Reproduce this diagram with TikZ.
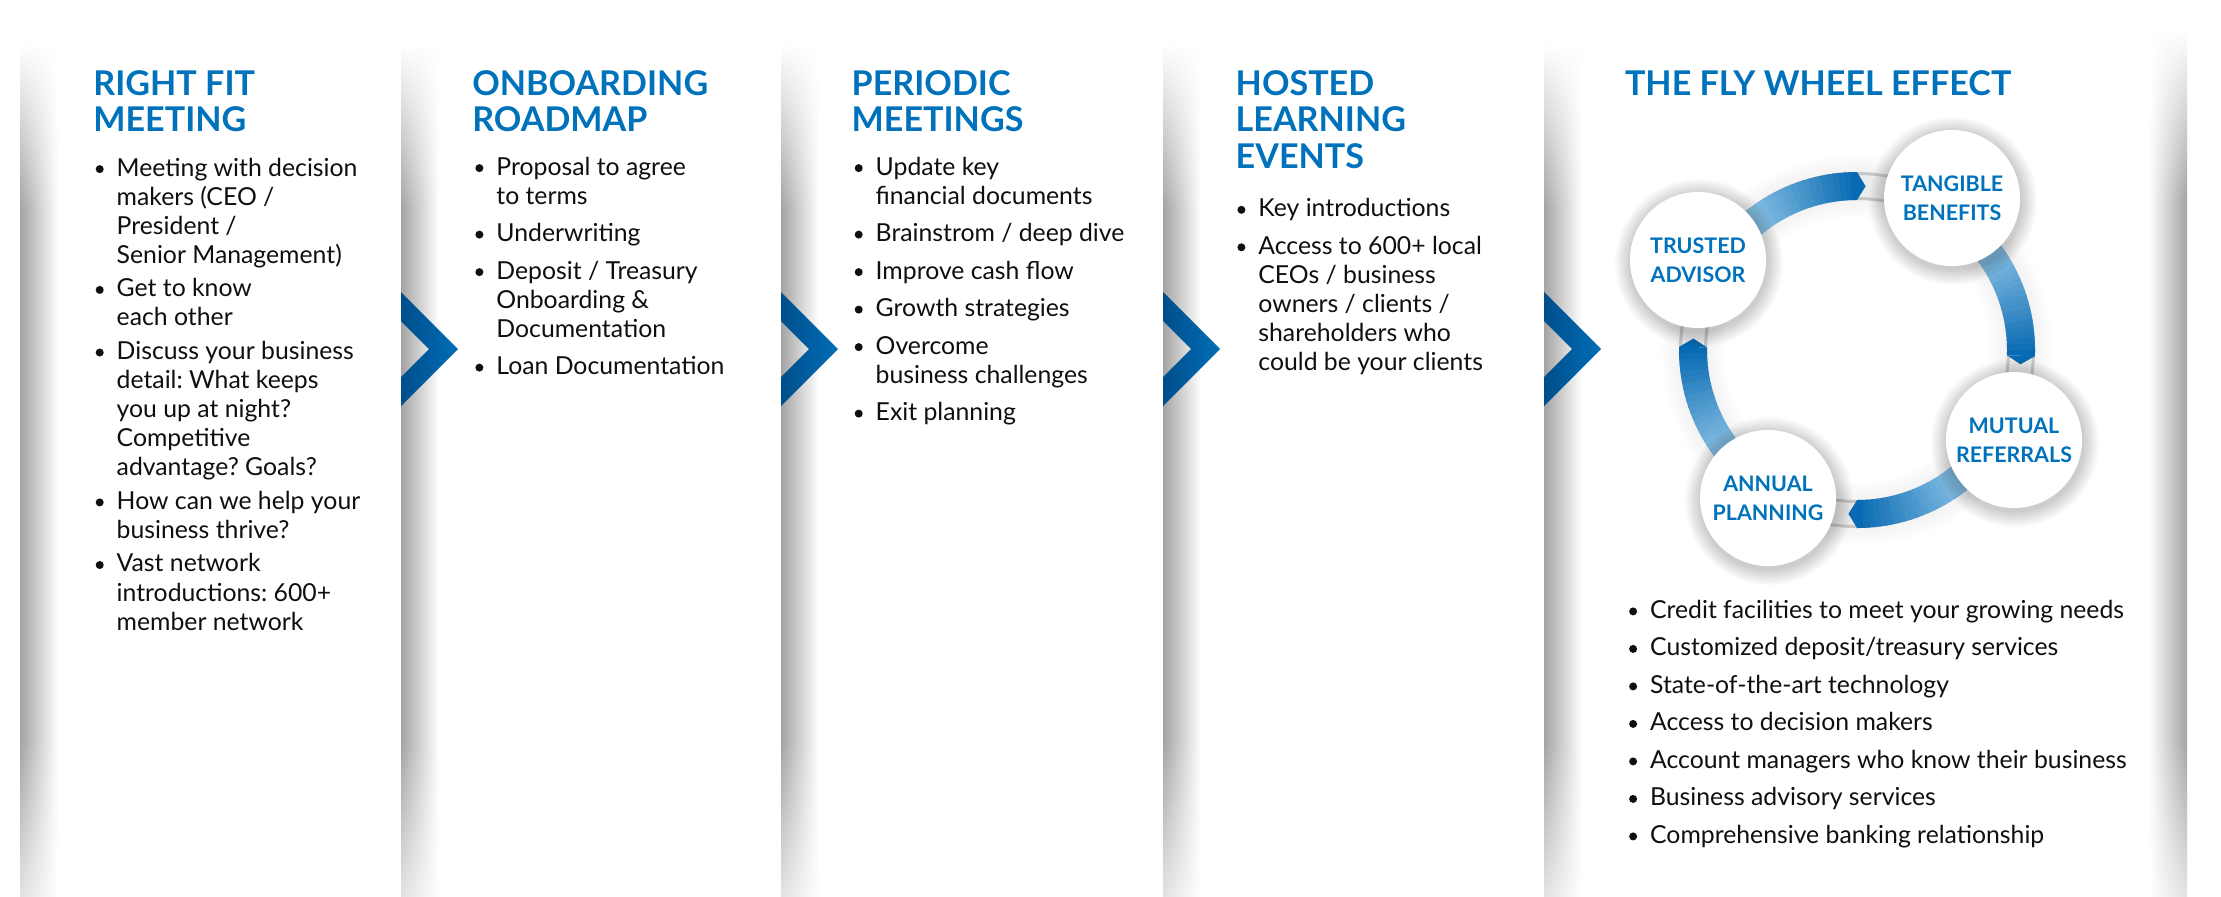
\documentclass[tikz,border=0pt]{standalone}
\usepackage{fontspec}
\setmainfont{Lato}
\usetikzlibrary{fadings}
\frenchspacing
\definecolor{ttl}{RGB}{0,114,188}
\definecolor{chev}{RGB}{0,110,183}
\definecolor{chevdark}{RGB}{0,78,138}
\definecolor{adark}{RGB}{8,106,178}
\definecolor{alight}{RGB}{146,198,232}
\definecolor{txt}{RGB}{15,15,15}
\newcounter{lnc}
\tikzset{
  ttlstyle/.style={anchor=base west, inner sep=0pt, text=ttl, font=\fontsize{9.7}{10.4}\selectfont\bfseries},
  linestyle/.style={anchor=base west, inner sep=0pt, text=txt, font=\fontsize{7.05}{8.2}\selectfont\frenchspacing},
  wheelnode/.style={circle, fill=white, minimum size=13.6mm, inner sep=0pt, text=ttl, align=center, font=\fontsize{6.1}{8.2}\selectfont\bfseries},
}
\newcommand\Ln[3]{\stepcounter{lnc}\node[linestyle] (ln\arabic{lnc}) at (#1,#2) {#3};}
\newcommand\Bul[2]{\fill[txt] (#1-16.3,#2-6.9) circle[radius=4];}
\newcommand\LShadow[1]{%
  \shade[left color=black!36, right color=white] (#1,45) rectangle (#1+38,896);
  \fill[white, path fading=south] (#1-1,44) rectangle (#1+39,210);
  \fill[white, path fading=north, opacity=.7] (#1-1,740) rectangle (#1+39,897);
}
\newcommand\Chev[1]{%
  \shade[left color=chevdark, middle color=chev, right color=chev]
    (#1,292) -- (#1+57,349) -- (#1,406) -- (#1,377) -- (#1+28,349) -- (#1,321) -- cycle;
}
\newcommand\Wheel[4]{%
  \foreach \k in {1,...,10} {\fill[black, opacity=0.018] (#2+1,#3+3) circle[radius=68+\k*1.6];}
  \node[wheelnode] (#1) at (#2,#3) {#4};
}
\begin{document}
\begin{tikzpicture}[x=0.1mm, y=-0.1mm]
\useasboundingbox (0,0) rectangle (2221,896);
\fill[white] (0,0) rectangle (2221,896);

% panel shadows
\LShadow{20}
\LShadow{401}
\LShadow{781}
\LShadow{1163}
\LShadow{1544}
\shade[left color=white, right color=black!36] (2149,30) rectangle (2187,896);
\fill[white, path fading=south] (2148,29) rectangle (2188,200);
\fill[white, path fading=north, opacity=.7] (2148,740) rectangle (2188,897);

% chevrons
\Chev{401}
\Chev{781}
\Chev{1163}
\Chev{1544}

% panel 1
\node[ttlstyle] (t1a) at (92.7,95) {RIGHT FIT};
\node[ttlstyle] (t1b) at (92.7,131.7) {MEETING};
\Bul{116}{176}\Ln{116}{176}{Meeting with decision}
\Ln{116}{205.1}{makers (CEO /}
\Ln{116}{234.2}{President /}
\Ln{116}{263.3}{Senior Management)}
\Bul{116}{296.8}\Ln{116}{296.8}{Get to know}
\Ln{116}{325.9}{each other}
\Bul{116}{359.4}\Ln{116}{359.4}{Discuss your business}
\Ln{116}{388.5}{detail: What keeps}
\Ln{116}{417.6}{you up at night?}
\Ln{116}{446.7}{Competitive}
\Ln{116}{475.8}{advantage? Goals?}
\Bul{116}{509.3}\Ln{116}{509.3}{How can we help your}
\Ln{116}{538.4}{business thrive?}
\Bul{116}{571.9}\Ln{116}{571.9}{Vast network}
\Ln{116}{601}{introductions: 600+}
\Ln{116}{630.1}{member network}

% panel 2
\node[ttlstyle] (t2a) at (471.7,95) {ONBOARDING};
\node[ttlstyle] (t2b) at (471.7,131.7) {ROADMAP};
\Bul{495.7}{175}\Ln{495.7}{175}{Proposal to agree}
\Ln{495.7}{204}{to terms}
\Bul{495.7}{241.5}\Ln{495.7}{241.5}{Underwriting}
\Bul{495.7}{279}\Ln{495.7}{279}{Deposit / Treasury}
\Ln{495.7}{308}{Onboarding \&}
\Ln{495.7}{337}{Documentation}
\Bul{495.7}{374.5}\Ln{495.7}{374.5}{Loan Documentation}

% panel 3
\node[ttlstyle] (t3a) at (851,95) {PERIODIC};
\node[ttlstyle] (t3b) at (851,131.7) {MEETINGS};
\Bul{875}{175}\Ln{875}{175}{Update key}
\Ln{875}{204}{financial documents}
\Bul{875}{241.5}\Ln{875}{241.5}{Brainstrom / deep dive}
\Bul{875}{279}\Ln{875}{279}{Improve cash flow}
\Bul{875}{316.5}\Ln{875}{316.5}{Growth strategies}
\Bul{875}{354}\Ln{875}{354}{Overcome}
\Ln{875}{383}{business challenges}
\Bul{875}{420.5}\Ln{875}{420.5}{Exit planning}

% panel 4
\node[ttlstyle] (t4a) at (1235,95) {HOSTED};
\node[ttlstyle] (t4b) at (1235,131.7) {LEARNING};
\node[ttlstyle] (t4c) at (1235,168.4) {EVENTS};
\Bul{1257.7}{216.7}\Ln{1257.7}{216.7}{Key introductions}
\Bul{1257.7}{254.2}\Ln{1257.7}{254.2}{Access to 600+ local}
\Ln{1257.7}{283.2}{CEOs / business}
\Ln{1257.7}{312.2}{owners / clients /}
\Ln{1257.7}{341.2}{shareholders who}
\Ln{1257.7}{370.2}{could be your clients}

% panel 5
\node[ttlstyle] (t5a) at (1624.3,95) {THE FLY WHEEL EFFECT};
\Bul{1649.4}{618.3}\Ln{1649.4}{618.3}{Credit facilities to meet your growing needs}
\Bul{1649.4}{655.8}\Ln{1649.4}{655.8}{Customized deposit/treasury services}
\Bul{1649.4}{693.3}\Ln{1649.4}{693.3}{State-of-the-art technology}
\Bul{1649.4}{730.8}\Ln{1649.4}{730.8}{Access to decision makers}
\Bul{1649.4}{768.3}\Ln{1649.4}{768.3}{Account managers who know their business}
\Bul{1649.4}{805.8}\Ln{1649.4}{805.8}{Business advisory services}
\Bul{1649.4}{843.3}\Ln{1649.4}{843.3}{Comprehensive banking relationship}

% fly wheel ring
\begin{scope}[shift={(1857,350)}]
  \foreach \k in {1,...,9} {
    \pgfmathsetmacro\op{0.05*(1-\k/10)}
    \draw[black, opacity=\op, line width=0.2mm] (0,0) circle[radius=178+\k*2-1];
    \draw[black, opacity=\op, line width=0.2mm] (0,0) circle[radius=150-\k*2+1];
  }
  \fill[black!7, even odd rule] (0,0) circle[radius=178] (0,0) circle[radius=150];
  \draw[black!22, line width=0.3mm] (0,0) circle[radius=176.5];
  \draw[black!22, line width=0.3mm] (0,0) circle[radius=151.5];
  \foreach \s in {150,58,-30,-121} {
    \foreach \k in {0,...,29} {
      \pgfmathsetmacro\aa{-(\s-\k*2)}
      \pgfmathsetmacro\ab{-(\s-min(\k*2+2.4,60))}
      \pgfmathtruncatemacro\p{max(0,min(100,((\k*2)-18)/40*100))}
      \fill[adark!\p!alight] (\aa:150) arc[start angle=\aa, end angle=\ab, radius=150]
        -- (\ab:178) arc[start angle=\ab, end angle=\aa, radius=178] -- cycle;
    }
    \pgfmathsetmacro\hc{-(\s-60)}
    \pgfmathsetmacro\ht{-(\s-63)}
    \fill[adark] (\hc:150) -- (\ht:164) -- (\hc:178) -- cycle;
  }
\end{scope}

% circles
\Wheel{ta}{1698}{260}{TRUSTED\\ADVISOR}
\Wheel{tb}{1952}{198}{TANGIBLE\\BENEFITS}
\Wheel{mr}{2014}{440}{MUTUAL\\REFERRALS}
\Wheel{ap}{1768}{498}{ANNUAL\\PLANNING}
\end{tikzpicture}
\end{document}
